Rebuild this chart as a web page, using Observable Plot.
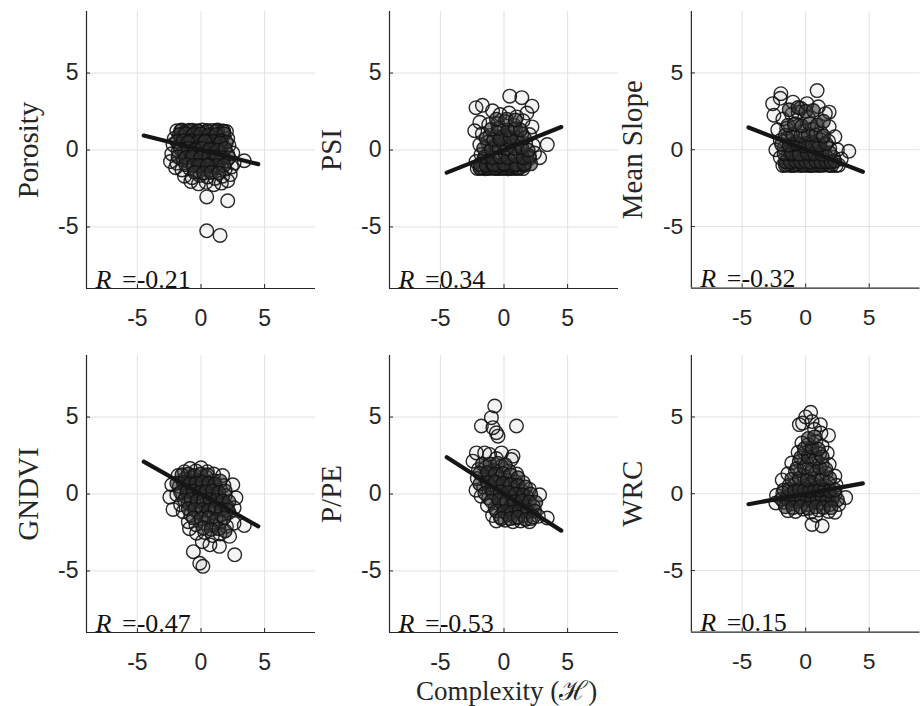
<!DOCTYPE html>
<html><head><meta charset="utf-8">
<script src="https://cdn.jsdelivr.net/npm/d3@7"></script>
<script src="https://cdn.jsdelivr.net/npm/@observablehq/plot@0.6"></script>
<style>
body{margin:0;background:#fff;overflow:hidden}
#fig{position:relative;width:922px;height:706px;background:#fff;overflow:hidden}
.panel{position:absolute}
</style></head><body><div id="fig"></div>
<script>
// ---- axis / labels ----
const xDomain = [-9, 9];
const yDomain = [-9, 9];
const xTicks = [-5, 0, 5];
const yTicks = [-5, 0, 5];
const panelNames = ["Porosity", "PSI", "Mean Slope", "GNDVI", "P/PE", "WRC"];
const rValues = ["-0.21", "0.34", "-0.32", "-0.47", "-0.53", "0.15"];
const xAxisTitle = "Complexity (\u210B)";

// ---- regression line end points ----
const lineX = [-4.5, 4.5];
const porosityLineY = [0.94, -0.92];
const psiLineY = [-1.47, 1.49];
const slopeLineY = [1.45, -1.43];
const gndviLineY = [2.1, -2.1];
const ppeLineY = [2.39, -2.38];
const wrcLineY = [-0.68, 0.68];

// ---- scatter points: outer / sparse points ----
const porosityX = [-1.9,-1.5,-1.1,-0.7,-0.3,0.1,0.5,0.9,1.3,1.7,2.0,-1.3,-0.5,0.3,1.1,
 -2.1,-1.6,-1.0,-0.4,0.2,0.8,1.4,2.1,
 -2.2,-1.7,-1.2,-0.6,0.0,0.5,1.1,1.6,2.2,
 -2.3,-1.8,-1.3,-0.7,-0.1,0.4,1.0,1.5,2.1,2.5,
 -2.4,-1.9,-1.4,-0.9,-0.3,0.3,0.9,1.4,2.0,2.6,3.4,
 -2.0,-1.5,-0.9,-0.4,0.2,0.7,1.3,1.9,2.4,
 -1.3,-0.7,-0.1,0.5,1.1,1.7,2.3,
 -0.8,-0.2,0.4,1.0,1.6,2.1,
 0.45,2.1,0.45,1.5];
const porosityY = [1.25,1.3,1.22,1.28,1.25,1.3,1.22,1.27,1.3,1.24,1.2,1.15,1.1,1.12,1.15,
 0.75,0.85,0.7,0.9,0.8,0.7,0.85,0.75,
 0.35,0.25,0.4,0.3,0.35,0.2,0.4,0.25,0.3,
 -0.25,-0.1,-0.3,-0.15,-0.3,-0.1,-0.25,-0.15,-0.3,-0.2,
 -0.75,-0.85,-0.65,-0.8,-0.7,-0.85,-0.65,-0.8,-0.7,-0.85,-0.7,
 -1.15,-1.3,-1.2,-1.35,-1.2,-1.3,-1.15,-1.25,-1.1,
 -1.7,-1.8,-1.65,-1.75,-1.85,-1.7,-1.6,
 -2.05,-2.2,-2.1,-2.25,-2.15,-2.0,
 -3.05,-3.3,-5.25,-5.55];
// dense core points
const porosityCoreX = [-1.6,-0.9,-0.2,0.5,1.2,1.8,
 -1.7,-1.2,-0.6,0.0,0.6,1.2,1.8,
 -1.9,-1.4,-0.8,-0.2,0.4,1.0,1.6,2.0,
 -1.0,-0.4,0.3,0.9,1.5,
 -1.6,-1.0,-0.5,0.1,0.7,1.3,1.9,
 -1.8,-1.2,-0.6,0.0,0.6,1.1,1.7,2.2,
 -0.7,0.0,0.6,1.2,
 -1.2,-0.6,0.0,0.6,1.2,1.8,-0.2,0.5,
 -0.5,0.2,0.8,1.4];
const porosityCoreY = [1.25,1.28,1.22,1.26,1.24,1.22,
 1.0,1.05,1.0,1.05,0.95,1.0,1.05,
 0.55,0.6,0.6,0.55,0.6,0.55,0.6,0.5,
 0.5,0.1,0.55,0.05,0.45,
 0.05,0.1,0.0,0.1,0.05,0.0,0.1,
 -0.45,-0.5,-0.5,-0.45,-0.55,-0.45,-0.5,-0.5,
 -0.45,-0.5,-0.4,-0.5,
 -0.95,-1.0,-1.05,-0.95,-1.0,-1.0,-1.0,-1.0,
 -1.45,-1.5,-1.45,-1.5];

const psiX = [-2.1,-1.8,-1.5,-1.2,-0.9,-0.6,-0.3,0.0,0.3,0.6,0.9,1.2,1.5,-1.65,-1.05,-0.45,0.15,0.75,
 -2.2,-1.6,-1.0,-0.4,0.2,0.8,1.4,2.0,2.8,
 -1.8,-1.2,-0.6,0.0,0.6,1.2,1.8,2.4,
 -1.9,-1.3,-0.7,-0.1,0.5,1.1,1.7,2.3,3.4,
 -2.3,-1.7,-1.1,-0.5,0.1,0.7,1.4,2.0,
 -1.9,-1.2,-0.5,0.1,0.8,1.5,2.2,
 -2.2,-1.7,-0.9,-0.3,0.4,1.0,1.8,2.2,
 0.45,1.4];
const psiY = [-1.2,-1.18,-1.22,-1.2,-1.19,-1.21,-1.2,-1.18,-1.22,-1.2,-1.2,-1.19,-1.21,-1.15,-1.15,-1.16,-1.15,-1.14,
 -0.75,-0.6,-0.8,-0.65,-0.78,-0.6,-0.7,-0.55,-0.5,
 -0.3,-0.15,-0.25,-0.1,-0.3,-0.15,-0.35,-0.2,
 0.35,0.5,0.3,0.45,0.3,0.5,0.4,0.3,0.35,
 1.25,1.05,0.95,1.1,0.9,1.1,1.05,1.0,
 1.8,1.65,1.7,1.85,1.6,1.9,1.5,
 2.75,2.9,2.55,2.3,2.4,2.15,2.4,2.85,
 3.5,3.4];
const psiCoreX = [-1.9,-1.3,-0.7,-0.1,0.5,1.1,
 -1.9,-1.4,-0.9,-0.4,0.1,0.6,1.1,1.6,2.1,
 -0.8,0.0,0.9,1.6,
 -1.5,-0.9,-0.3,0.3,0.9,1.5,2.0,
 -1.6,-1.0,-0.4,0.2,0.8,1.4,1.9,
 -1.4,-0.8,-0.2,0.4,1.0,1.6,-0.3,0.5,
 -1.0,-0.4,0.3,0.9,1.3,
 -0.6,0.2,0.9];
const psiCoreY = [-1.18,-1.17,-1.19,-1.18,-1.17,-1.18,
 -0.95,-1.0,-0.95,-1.0,-0.97,-1.0,-0.95,-1.0,-0.9,
 -0.95,-0.9,-0.95,-0.9,
 -0.45,-0.5,-0.45,-0.5,-0.4,-0.5,-0.4,
 0.1,0.05,0.15,0.1,0.1,0.15,0.0,
 0.75,0.7,0.8,0.65,0.75,0.8,0.7,0.8,
 1.35,1.4,1.3,1.4,1.3,
 2.0,2.0,1.95];

const slopeX = [-1.8,-1.45,-1.1,-0.75,-0.4,-0.05,0.3,0.65,1.0,1.35,1.7,2.05,2.4,2.6,-1.3,-0.6,0.1,0.8,1.5,
 -2.0,-1.4,-0.8,-0.2,0.4,1.0,1.6,2.2,2.8,
 -2.35,-1.7,-1.1,-0.5,0.1,0.7,1.3,1.9,2.5,3.4,
 -2.0,-1.4,-0.8,-0.1,0.6,1.2,1.8,2.3,
 -2.2,-1.5,-0.8,-0.2,0.5,1.2,1.85,
 -2.5,-1.8,-1.1,-0.6,0.2,1.0,1.55,1.85,
 -2.6,-2.0,-1.0,0.1,0.9,-1.95,-0.4];
const slopeY = [-1.02,-1.0,-1.03,-1.0,-1.02,-1.01,-1.03,-1.0,-1.02,-1.01,-1.0,-1.03,-1.02,-1.0,-0.95,-0.96,-0.95,-0.97,-0.95,
 -0.5,-0.6,-0.45,-0.55,-0.4,-0.6,-0.45,-0.5,-0.6,
 0.0,0.1,-0.05,0.1,0.0,0.15,-0.05,0.1,0.0,-0.1,
 0.6,0.7,0.5,0.8,0.45,0.65,0.55,0.85,
 1.3,1.4,1.7,1.2,1.35,1.1,1.5,
 2.25,2.0,2.3,2.45,2.1,2.8,2.35,2.45,
 3.0,3.35,3.1,3.0,3.85,3.65,2.7];
const slopeCoreX = [-1.6,-0.9,-0.2,0.5,1.2,1.9,
 -1.6,-1.2,-0.8,-0.4,0.0,0.4,0.8,1.2,1.6,2.0,2.3,
 -1.2,-0.5,0.3,1.1,
 -1.7,-1.1,-0.5,0.1,0.7,1.3,1.9,
 -0.9,0.0,0.8,
 -1.9,-1.3,-0.7,-0.1,0.5,1.1,1.6,
 -1.6,-1.0,-0.4,0.2,0.8,1.4,
 -1.4,-0.9,-0.3,0.3,0.9,1.4,
 -1.3,-0.6,0.0,0.6];
const slopeCoreY = [-1.0,-1.01,-1.0,-1.02,-1.0,-1.01,
 -0.78,-0.8,-0.75,-0.8,-0.78,-0.82,-0.75,-0.8,-0.78,-0.8,-0.75,
 -0.3,-0.25,-0.3,-0.2,
 -0.25,-0.2,-0.3,-0.2,-0.25,-0.3,-0.2,
 0.35,0.4,0.3,
 0.35,0.3,0.4,0.25,0.35,0.3,0.4,
 0.95,1.0,0.9,1.0,0.95,0.9,
 1.6,1.65,1.55,1.7,1.6,1.85,
 2.6,2.75,2.5,2.55];

const gndviX = [-1.3,-0.85,-0.4,0.0,0.5,1.0,
 -1.8,-1.3,-0.8,-0.2,0.4,1.0,1.7,
 -2.3,-1.7,-1.1,-0.5,0.1,0.6,1.2,1.8,2.5,
 -2.45,-1.9,-1.2,-0.6,0.0,0.6,1.3,1.9,2.75,
 -2.2,-1.6,-1.0,-0.4,0.2,0.8,1.4,2.0,2.6,
 -1.4,-0.8,-0.2,0.4,1.0,1.6,2.2,3.4,
 -1.0,-0.4,0.3,0.9,1.5,2.0,2.6,
 -0.9,-0.35,0.3,0.9,1.5,2.25,
 0.7,1.45,-0.6,2.65,0.1,
 -0.1,0.15];
const gndviY = [1.45,1.65,1.5,1.7,1.45,1.3,
 1.2,0.95,1.05,0.9,1.1,0.85,1.2,
 0.6,0.5,0.35,0.55,0.4,0.5,0.3,0.55,0.6,
 -0.2,-0.05,-0.15,0.0,-0.2,-0.05,-0.15,-0.1,-0.25,
 -1.0,-0.7,-0.6,-0.8,-0.65,-0.75,-0.6,-0.8,-0.9,
 -1.15,-1.35,-1.2,-1.4,-1.25,-1.35,-1.2,-2.05,
 -1.8,-2.0,-1.9,-2.05,-1.85,-2.1,-1.9,
 -2.25,-2.55,-2.5,-2.7,-2.6,-2.75,
 -3.3,-3.4,-3.75,-3.95,-3.1,
 -4.5,-4.7];
const gndviCoreX = [-1.0,-0.3,0.4,1.1,-0.7,0.1,0.9,1.6,0.5,1.2,
 -1.5,-1.0,-0.5,0.0,0.5,
 -1.9,-1.4,-0.9,-0.4,0.1,0.6,1.1,1.5,
 -1.6,-1.1,-0.6,-0.1,0.4,0.9,1.4,1.9,
 -1.3,-0.8,-0.3,0.2,0.7,1.2,1.7,2.2,
 -1.0,-0.5,0.1,0.6,1.1,1.6,2.1,
 -0.6,0.0,0.6,1.2,1.8,
 0.2,0.8,1.4,1.9];
const gndviCoreY = [0.8,0.75,0.8,0.6,0.2,0.15,0.1,-0.4,-0.4,-0.9,
 1.25,1.3,1.2,1.3,1.25,
 0.7,0.75,0.65,0.7,0.75,0.7,0.65,0.85,
 0.1,0.15,0.2,0.1,0.15,0.2,0.1,0.2,
 -0.4,-0.35,-0.45,-0.4,-0.35,-0.4,-0.45,-0.5,
 -0.95,-1.0,-1.0,-1.05,-0.95,-1.0,-1.05,
 -1.55,-1.6,-1.55,-1.65,-1.55,
 -2.2,-2.3,-2.25,-2.4];

const ppeX = [-0.73,-0.99,-1.78,0.98,-0.87,-0.6,-0.47,
 -2.17,-1.52,-1.13,-0.2,0.71,-2.44,0.58,-0.6,
 -2.0,-1.4,-0.8,-0.2,0.4,1.0,
 -2.1,-1.5,-0.9,-0.3,0.3,0.9,1.5,
 -2.2,-1.6,-1.0,-0.4,0.2,0.8,1.4,2.0,
 -1.8,-1.2,-0.6,0.0,0.6,1.2,1.8,2.8,
 -1.3,-0.7,-0.1,0.5,1.1,1.7,2.3,
 -0.9,-0.3,0.3,0.9,1.5,2.1,2.7,3.4,
 -0.6,0.1,0.7,1.3,2.0];
const ppeY = [5.72,4.96,4.42,4.42,4.31,3.98,3.76,
 2.67,2.67,2.57,2.67,2.46,2.13,2.24,2.3,
 1.6,1.75,1.55,1.8,1.5,1.3,
 1.0,1.1,0.9,1.05,0.9,0.8,0.75,
 0.25,0.45,0.35,0.5,0.3,0.4,0.2,0.3,
 -0.15,-0.25,-0.1,-0.3,-0.15,-0.3,-0.2,-0.05,
 -0.75,-0.9,-0.7,-0.85,-0.75,-0.9,-0.8,
 -1.4,-1.5,-1.35,-1.55,-1.4,-1.6,-1.45,-1.56,
 -1.75,-1.7,-1.8,-1.75,-1.8];
const ppeCoreX = [-1.2,-0.6,0.0,0.6,1.2,-0.3,0.3,0.9,1.5,
 -1.7,-1.1,-0.5,0.1,
 -1.9,-1.3,-0.7,-0.1,0.5,1.1,
 -1.9,-1.3,-0.7,-0.1,0.5,1.1,1.7,
 -1.5,-0.9,-0.3,0.3,0.9,1.5,2.1,
 -1.0,-0.4,0.2,0.8,1.4,2.0,2.5,
 -0.6,0.0,0.6,1.2,1.8,2.4,
 -0.2,0.5,1.1,1.7,2.3];
const ppeCoreY = [1.3,0.7,0.6,0.1,-0.5,-0.5,-1.05,-1.1,-1.1,
 1.95,1.95,2.0,1.9,
 1.35,1.4,1.3,1.35,1.25,1.05,
 0.65,0.75,0.8,0.7,0.6,0.55,0.45,
 0.05,0.1,0.15,0.1,0.0,-0.05,0.0,
 -0.45,-0.4,-0.45,-0.5,-0.45,-0.5,-0.55,
 -1.1,-1.15,-1.2,-1.1,-1.15,-1.1,
 -1.6,-1.6,-1.5,-1.65,-1.5];

const wrcX = [0.39,0.0,-0.5,-0.25,0.5,1.15,1.2,1.8,0.7,
 -0.3,0.2,0.8,1.3,
 -0.6,-0.1,0.5,1.1,1.7,
 -1.1,-0.5,0.1,0.7,1.3,1.85,
 -1.4,-0.8,-0.2,0.4,1.0,1.6,2.3,
 -1.85,-1.3,-0.7,0.0,0.6,1.2,1.8,2.4,
 -2.3,-1.8,-1.2,-0.6,0.0,0.6,1.2,1.8,2.3,3.15,
 -2.35,-1.7,-1.1,-0.5,0.1,0.7,1.3,1.9,2.6,
 -1.4,-0.8,-0.2,0.4,1.0,1.8,2.3,
 0.5,1.3,0.8];
const wrcY = [5.3,5.0,4.5,4.6,4.7,4.5,3.95,3.8,4.2,
 3.3,3.2,3.4,3.1,
 2.7,2.65,2.8,2.6,2.65,
 2.0,2.1,1.95,2.15,1.9,1.9,
 1.3,1.45,1.2,1.4,1.25,1.35,1.15,
 0.9,0.55,0.7,0.5,0.65,0.5,0.7,0.55,
 -0.1,0.05,-0.05,0.1,-0.05,0.05,-0.1,0.0,-0.05,-0.25,
 -0.6,-0.55,-0.65,-0.5,-0.7,-0.55,-0.6,-0.7,-0.7,
 -1.1,-1.15,-1.0,-1.2,-1.05,-1.15,-1.2,
 -2.0,-2.1,-1.4];
const wrcCoreX = [-1.0,-0.4,0.3,0.9,1.5,-0.3,0.4,1.0,0.2,
 -1.9,-1.5,-1.1,-0.7,-0.3,0.1,0.5,0.9,1.3,1.7,2.1,2.5,
 -1.6,-1.0,-0.4,0.2,0.8,1.4,2.0,
 -1.7,-1.3,-0.9,-0.5,-0.1,0.3,0.7,1.1,1.5,1.9,2.3,
 -1.1,-0.5,0.1,0.7,1.3,1.9,
 -0.7,-0.1,0.5,1.1,1.6,
 -0.4,0.2,0.8,1.3,
 -0.1,0.5,1.0,
 0.2,0.7];
const wrcCoreY = [-0.3,-0.25,-0.35,-0.3,-0.25,0.3,0.25,0.35,0.9,
 -0.35,-0.3,-0.4,-0.3,-0.35,-0.3,-0.4,-0.35,-0.3,-0.4,-0.35,-0.4,
 -0.85,-0.9,-0.85,-0.95,-0.85,-0.9,-0.9,
 0.25,0.3,0.2,0.3,0.25,0.2,0.3,0.25,0.3,0.2,0.25,
 0.95,1.0,0.9,1.0,0.95,1.0,
 1.65,1.7,1.6,1.7,1.6,
 2.35,2.4,2.3,2.4,
 2.95,3.0,2.9,
 3.6,3.7];

const panels = [
  {xs: porosityX, ys: porosityY, cx: porosityCoreX, cy: porosityCoreY, ly: porosityLineY},
  {xs: psiX, ys: psiY, cx: psiCoreX, cy: psiCoreY, ly: psiLineY},
  {xs: slopeX, ys: slopeY, cx: slopeCoreX, cy: slopeCoreY, ly: slopeLineY},
  {xs: gndviX, ys: gndviY, cx: gndviCoreX, cy: gndviCoreY, ly: gndviLineY},
  {xs: ppeX, ys: ppeY, cx: ppeCoreX, cy: ppeCoreY, ly: ppeLineY},
  {xs: wrcX, ys: wrcY, cx: wrcCoreX, cy: wrcCoreY, ly: wrcLineY}
];

const colLeft = [0, 302.5, 604.5];
const rowTop = [0, 343.5];
const ink = "#262626";
const fig = document.getElementById("fig");
const fmt = d => String(d);

panels.forEach((p, i) => {
  const row = Math.floor(i / 3), col = i % 3;
  const pts = p.xs.map((x, k) => ({x, y: p.ys[k]}));
  const core = p.cx.map((x, k) => ({x, y: p.cy[k]}));
  const line = lineX.map((x, k) => ({x, y: p.ly[k]}));
  const H = row === 0 ? 338 : 362;
  const marks = [
    Plot.gridX(xTicks, {stroke: "#e2e2e2", strokeOpacity: 1}),
    Plot.gridY(yTicks, {stroke: "#e2e2e2", strokeOpacity: 1}),
    Plot.tickX(xTicks, {x: d => d, insetTop: 273, stroke: ink}),
    Plot.tickY(yTicks, {y: d => d, insetRight: 225, stroke: ink}),
    Plot.ruleX([xDomain[0]], {stroke: ink, strokeWidth: 1.2}),
    Plot.ruleY([yDomain[0]], {stroke: ink, strokeWidth: 1.2}),
    Plot.axisX(xTicks, {tickSize: 0, tickPadding: 21, label: null, fill: ink, tickFormat: fmt}),
    Plot.axisY(yTicks, {tickSize: 0, tickPadding: 8, label: null, fill: ink, tickFormat: fmt}),
    Plot.dot(pts, {x: "x", y: "y", r: 6.8, fill: "#2e2e2e", fillOpacity: 0.05,
                   stroke: "#121212", strokeWidth: 1.4, strokeOpacity: 0.9}),
    Plot.dot(core, {x: "x", y: "y", r: 6.8, fill: "#303030", fillOpacity: 0.55,
                   stroke: "#121212", strokeWidth: 1.4, strokeOpacity: 0.9}),
    Plot.line(line, {x: "x", y: "y", stroke: "#151515", strokeWidth: 4.2}),
    Plot.text([panelNames[i]], {frameAnchor: "left", rotate: -90, dx: -49,
                   textAnchor: "middle", lineAnchor: "bottom",
                   fontFamily: "Liberation Serif, serif", fontSize: 29, fill: ink}),
    Plot.text(["R"], {frameAnchor: "bottom-left", dx: 9, dy: -1, textAnchor: "start",
                   lineAnchor: "bottom", fontStyle: "italic",
                   fontFamily: "Liberation Serif, serif", fontSize: 26, fill: "#111"}),
    Plot.text(["=" + rValues[i]], {frameAnchor: "bottom-left", dx: 35.5, dy: -1, textAnchor: "start",
                   lineAnchor: "bottom",
                   fontFamily: "Liberation Serif, serif", fontSize: 26, fill: "#111"})
  ];
  if (i === 4) {
    marks.push(Plot.text([xAxisTitle], {frameAnchor: "bottom", dx: 2.5, dy: 67.5,
      lineAnchor: "bottom", fontFamily: "Liberation Serif, serif", fontSize: 27, fill: ink}));
  }
  const chart = Plot.plot({
    width: 318, height: H,
    marginLeft: 86, marginRight: 3, marginTop: 11, marginBottom: H - 11 - 277,
    x: {domain: xDomain},
    y: {domain: yDomain},
    style: {fontFamily: "Liberation Sans, Arial, sans-serif", fontSize: "23px",
            color: ink, background: "transparent", overflow: "visible"},
    marks
  });
  const div = document.createElement("div");
  div.className = "panel";
  div.style.left = colLeft[col] + "px";
  div.style.top = rowTop[row] + "px";
  div.appendChild(chart);
  fig.appendChild(div);
});
</script>
</body></html>
